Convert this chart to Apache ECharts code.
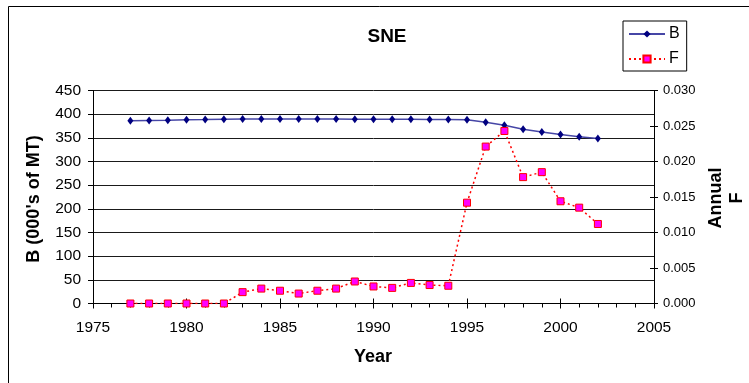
<!DOCTYPE html>
<html>
<head>
<meta charset="utf-8">
<script src="https://cdn.jsdelivr.net/npm/echarts@6/dist/echarts.min.js"></script>
<style>
  html, body { margin: 0; padding: 0; background: #fff; }
  #chart { width: 749px; height: 383px; }
</style>
</head>
<body>
<div id="chart"></div>
<script>
// Southern New England: biomass B (000's of MT) and annual fishing mortality F
const years = [1977, 1978, 1979, 1980, 1981, 1982, 1983, 1984, 1985, 1986, 1987, 1988, 1989,
               1990, 1991, 1992, 1993, 1994, 1995, 1996, 1997, 1998, 1999, 2000, 2001, 2002];
const biomass = [386, 386.5, 387, 388, 388.5, 389.5, 390, 390, 390, 390, 390, 390, 389.5,
                 389.5, 389, 389, 388.5, 388.5, 388, 383, 376.5, 368, 362.5, 357, 352.5, 348.5];
const annualF = [0, 0, 0, 0, 0, 0, 0.0016, 0.0021, 0.0018, 0.0014, 0.0018, 0.0021, 0.0031,
                 0.0024, 0.0022, 0.0029, 0.0026, 0.0025, 0.0142, 0.0221, 0.0243, 0.0178, 0.0185,
                 0.0144, 0.0135, 0.0112];
const yearTicks = { min: 1975, max: 2005, step: 5 };
const bTicks = { min: 0, max: 450, step: 50 };
const fTicks = { min: 0, max: 0.03, step: 0.005 };

const FONT = "'Liberation Sans', Arial, sans-serif";
const chart = echarts.init(document.getElementById('chart'), null, { renderer: 'canvas' });

const pairs = (xs, ys) => xs.map((x, i) => [x, ys[i]]);

chart.setOption({
  animation: false,
  backgroundColor: '#ffffff',
  title: {
    text: 'SNE',
    left: 382,
    top: 22,
    textAlign: 'center',
    textStyle: { fontFamily: FONT, fontSize: 19, fontWeight: 'bold', color: '#000' }
  },
  legend: {
    data: ['B', 'F'],
    orient: 'vertical',
    left: 623,
    top: 21,
    padding: [5, 7, 4, 5],
    itemWidth: 36,
    itemHeight: 9,
    itemGap: 9,
    borderColor: '#000',
    borderWidth: 1,
    backgroundColor: '#fff',
    textStyle: { fontFamily: FONT, fontSize: 16, color: '#000', padding: [0, 0, 0, -1], lineHeight: 16 }
  },
  grid: { left: 93, right: 95, top: 90.5, bottom: 79.5, containLabel: false },
  xAxis: [
    {
      type: 'value', position: 'bottom',
      min: yearTicks.min, max: yearTicks.max, interval: yearTicks.step,
      axisLine: { show: true, lineStyle: { color: '#000', width: 1 } },
      axisTick: { show: true, inside: false, length: 5, lineStyle: { color: '#000' } },
      minorTick: { show: true, splitNumber: 5, length: 4, lineStyle: { color: '#000' } },
      axisLabel: { margin: 16, fontFamily: FONT, fontSize: 15.5, color: '#000',
                   formatter: v => String(v) },
      splitLine: { show: false }
    },
    {
      // upper half of the crossing major ticks
      type: 'value', position: 'bottom',
      min: yearTicks.min, max: yearTicks.max, interval: yearTicks.step,
      axisLine: { show: false },
      axisTick: { show: true, inside: true, length: 5, lineStyle: { color: '#000' } },
      axisLabel: { show: false },
      splitLine: { show: false }
    }
  ],
  yAxis: [
    {
      type: 'value', position: 'left',
      min: bTicks.min, max: bTicks.max, interval: bTicks.step,
      axisLine: { show: true, lineStyle: { color: '#000', width: 1 } },
      axisTick: { show: true, inside: false, length: 5, lineStyle: { color: '#000' } },
      axisLabel: { margin: 12, fontFamily: FONT, fontSize: 15.5, color: '#000' },
      splitLine: { show: true, lineStyle: { color: '#1a1a1a', width: 1 } }
    },
    {
      type: 'value', position: 'right',
      min: fTicks.min, max: fTicks.max, interval: fTicks.step,
      axisLine: { show: true, lineStyle: { color: '#000', width: 1 } },
      axisTick: { show: true, inside: false, length: 4, lineStyle: { color: '#000' } },
      axisLabel: { margin: 9, fontFamily: FONT, fontSize: 13, color: '#000',
                   formatter: v => v.toFixed(3) },
      splitLine: { show: false }
    },
    {
      // inner half of the crossing ticks on the F axis
      type: 'value', position: 'right',
      min: fTicks.min, max: fTicks.max, interval: fTicks.step,
      axisLine: { show: false },
      axisTick: { show: true, inside: true, length: 4, lineStyle: { color: '#000' } },
      axisLabel: { show: false },
      splitLine: { show: false }
    }
  ],
  series: [
    {
      name: 'B', type: 'line', xAxisIndex: 0, yAxisIndex: 0,
      data: pairs(years, biomass),
      symbol: 'diamond', symbolSize: [6, 8],
      itemStyle: { color: '#000080' },
      lineStyle: { color: '#4646a6', width: 1.5 },
      z: 3
    },
    {
      name: 'F', type: 'line', xAxisIndex: 0, yAxisIndex: 1,
      data: pairs(years, annualF),
      symbol: 'rect', symbolSize: 7,
      itemStyle: { color: '#ff00ff', borderColor: '#ff0000', borderWidth: 1 },
      lineStyle: { color: '#ff0000', width: 1.5, type: [2, 3] },
      z: 4
    }
  ],
  graphic: [
    {
      type: 'rect', silent: true, z: -1,
      shape: { x: 8.5, y: 6.5, width: 800, height: 400 },
      style: { fill: 'none', stroke: '#000', lineWidth: 1 }
    },
    {
      type: 'text', x: 34, y: 199, rotation: Math.PI / 2,
      style: { text: "B (000's of MT)", fontFamily: FONT, fontSize: 18, fontWeight: 'bold',
               fill: '#000', align: 'center', verticalAlign: 'middle' }
    },
    {
      type: 'text', x: 727, y: 198, rotation: Math.PI / 2,
      style: { text: 'Annual\nF', fontFamily: FONT, fontSize: 18, fontWeight: 'bold',
               lineHeight: 21, fill: '#000', align: 'center', verticalAlign: 'middle' }
    },
    {
      type: 'text', x: 373, y: 357,
      style: { text: 'Year', fontFamily: FONT, fontSize: 18, fontWeight: 'bold',
               fill: '#000', align: 'center', verticalAlign: 'middle' }
    }
  ]
});
</script>
</body>
</html>
